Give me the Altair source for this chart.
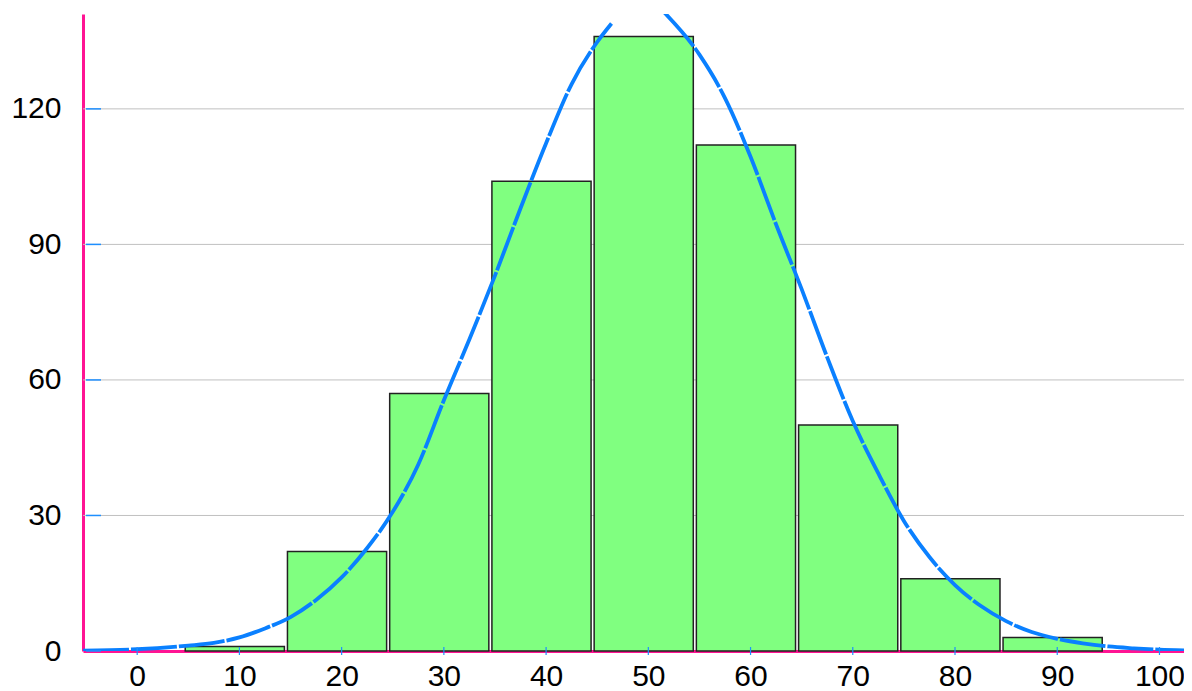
import altair as alt
import pandas as pd

# Histogram bins (centre of each 10-wide class) and counts
bin_centers = [10, 20, 30, 40, 50, 60, 70, 80, 90]
counts = [1, 22, 57, 104, 136, 112, 50, 16, 3]

# Fitted curve (two pieces: it is clipped at the top)
curve_left_x = [-5.3, 0, 5, 7.5, 10, 12.5, 15, 17.5, 20, 22.5, 25, 27.5, 30, 32.5,
                35, 37.5, 40, 42.5, 45, 46.4]
curve_left_y = [0.1, 0.4, 1.2, 1.8, 3.0, 5.0, 7.5, 11.3, 16.3, 22.8, 30.8, 41.3, 55.5, 69.0,
                83.1, 98.0, 112.4, 125.5, 134.8, 138.9]
curve_right_x = [51.5, 55, 57.5, 60, 62.5, 65, 67.5, 70, 72.5, 75, 77.5, 80, 82.5, 85,
                 87.5, 90, 92.5, 95, 97.5, 100, 102.4]
curve_right_y = [141.5, 132.0, 122.4, 109.4, 94.4, 80.1, 65.0, 50.9, 39.3, 28.8, 20.8, 14.6, 10.0, 6.6,
                 4.2, 2.7, 1.7, 1.0, 0.6, 0.3, 0.15]

x_ticks = [0, 10, 20, 30, 40, 50, 60, 70, 80, 90, 100]
y_ticks = [0, 30, 60, 90, 120]
y_grid = [30, 60, 90, 120]

X_DOMAIN = [-5.3, 102.4]
Y_DOMAIN = [0, 141]
AXIS_PINK = "#ff1493"
TICK_BLUE = "#1e8fff"
LINE_BLUE = "#0a80ff"
FONT = "Liberation Sans"

bars = pd.DataFrame({
    "center": bin_centers,
    "count": counts,
})
bars["x0"] = bars["center"] - 5.3
bars["x1"] = bars["center"] + 4.4
bars["base"] = 0

curve = pd.concat([
    pd.DataFrame({"x": curve_left_x, "y": curve_left_y, "seg": "a"}),
    pd.DataFrame({"x": curve_right_x, "y": curve_right_y, "seg": "b"}),
], ignore_index=True)

xs = alt.Scale(domain=X_DOMAIN, nice=False, zero=False)
ys = alt.Scale(domain=Y_DOMAIN, nice=False, zero=False)

xaxis = alt.Axis(values=x_ticks, title=None, ticks=False, tickSize=0, grid=False,
                 labelPadding=10, labelFlush=False)
yaxis = alt.Axis(values=y_ticks, title=None, ticks=False, tickSize=0, grid=False,
                 labelPadding=22, labelFlush=False)

grid = alt.Chart(pd.DataFrame({"g": y_grid})).mark_rule(
    color="#c0c0c0", strokeWidth=1
).encode(y=alt.Y("g:Q", scale=ys, axis=yaxis))

bar_layer = alt.Chart(bars).mark_rect(
    fill="#80ff80", stroke="#222222", strokeWidth=1.5
).encode(
    x=alt.X("x0:Q", scale=xs, axis=xaxis),
    x2="x1:Q",
    y=alt.Y("count:Q", scale=ys, axis=yaxis),
    y2="base:Q",
)

line = alt.Chart(curve).mark_line(
    color=LINE_BLUE, strokeWidth=3.8, strokeDash=[46, 2], clip=True,
    interpolate="monotone"
).encode(
    x=alt.X("x:Q", scale=xs, axis=xaxis),
    y=alt.Y("y:Q", scale=ys, axis=yaxis),
    detail="seg:N",
)

xtick_layer = alt.Chart(pd.DataFrame({"t": x_ticks})).mark_rule(
    color=TICK_BLUE, strokeWidth=1.2
).encode(
    x=alt.X("t:Q", scale=xs, axis=xaxis),
    y=alt.value(633), y2=alt.value(641),
)

ytick_layer = alt.Chart(pd.DataFrame({"t": y_ticks})).mark_rule(
    color=TICK_BLUE, strokeWidth=1.5
).encode(
    y=alt.Y("t:Q", scale=ys, axis=yaxis),
    x=alt.value(3), x2=alt.value(18),
)

chart = alt.layer(grid, bar_layer, line, xtick_layer, ytick_layer).properties(
    width=1101, height=637,
    autosize=alt.AutoSizeParams(type="none"),
    padding={"left": 75, "top": 6, "right": 0, "bottom": 40},
    background="white",
).configure_view(stroke=None).configure_axis(
    labelFontSize=30, labelFont=FONT, labelColor="black",
    domainColor=AXIS_PINK, domainWidth=3, zindex=1,
)

chart.save("out.html", embed_options={"renderer": "svg", "actions": False})
